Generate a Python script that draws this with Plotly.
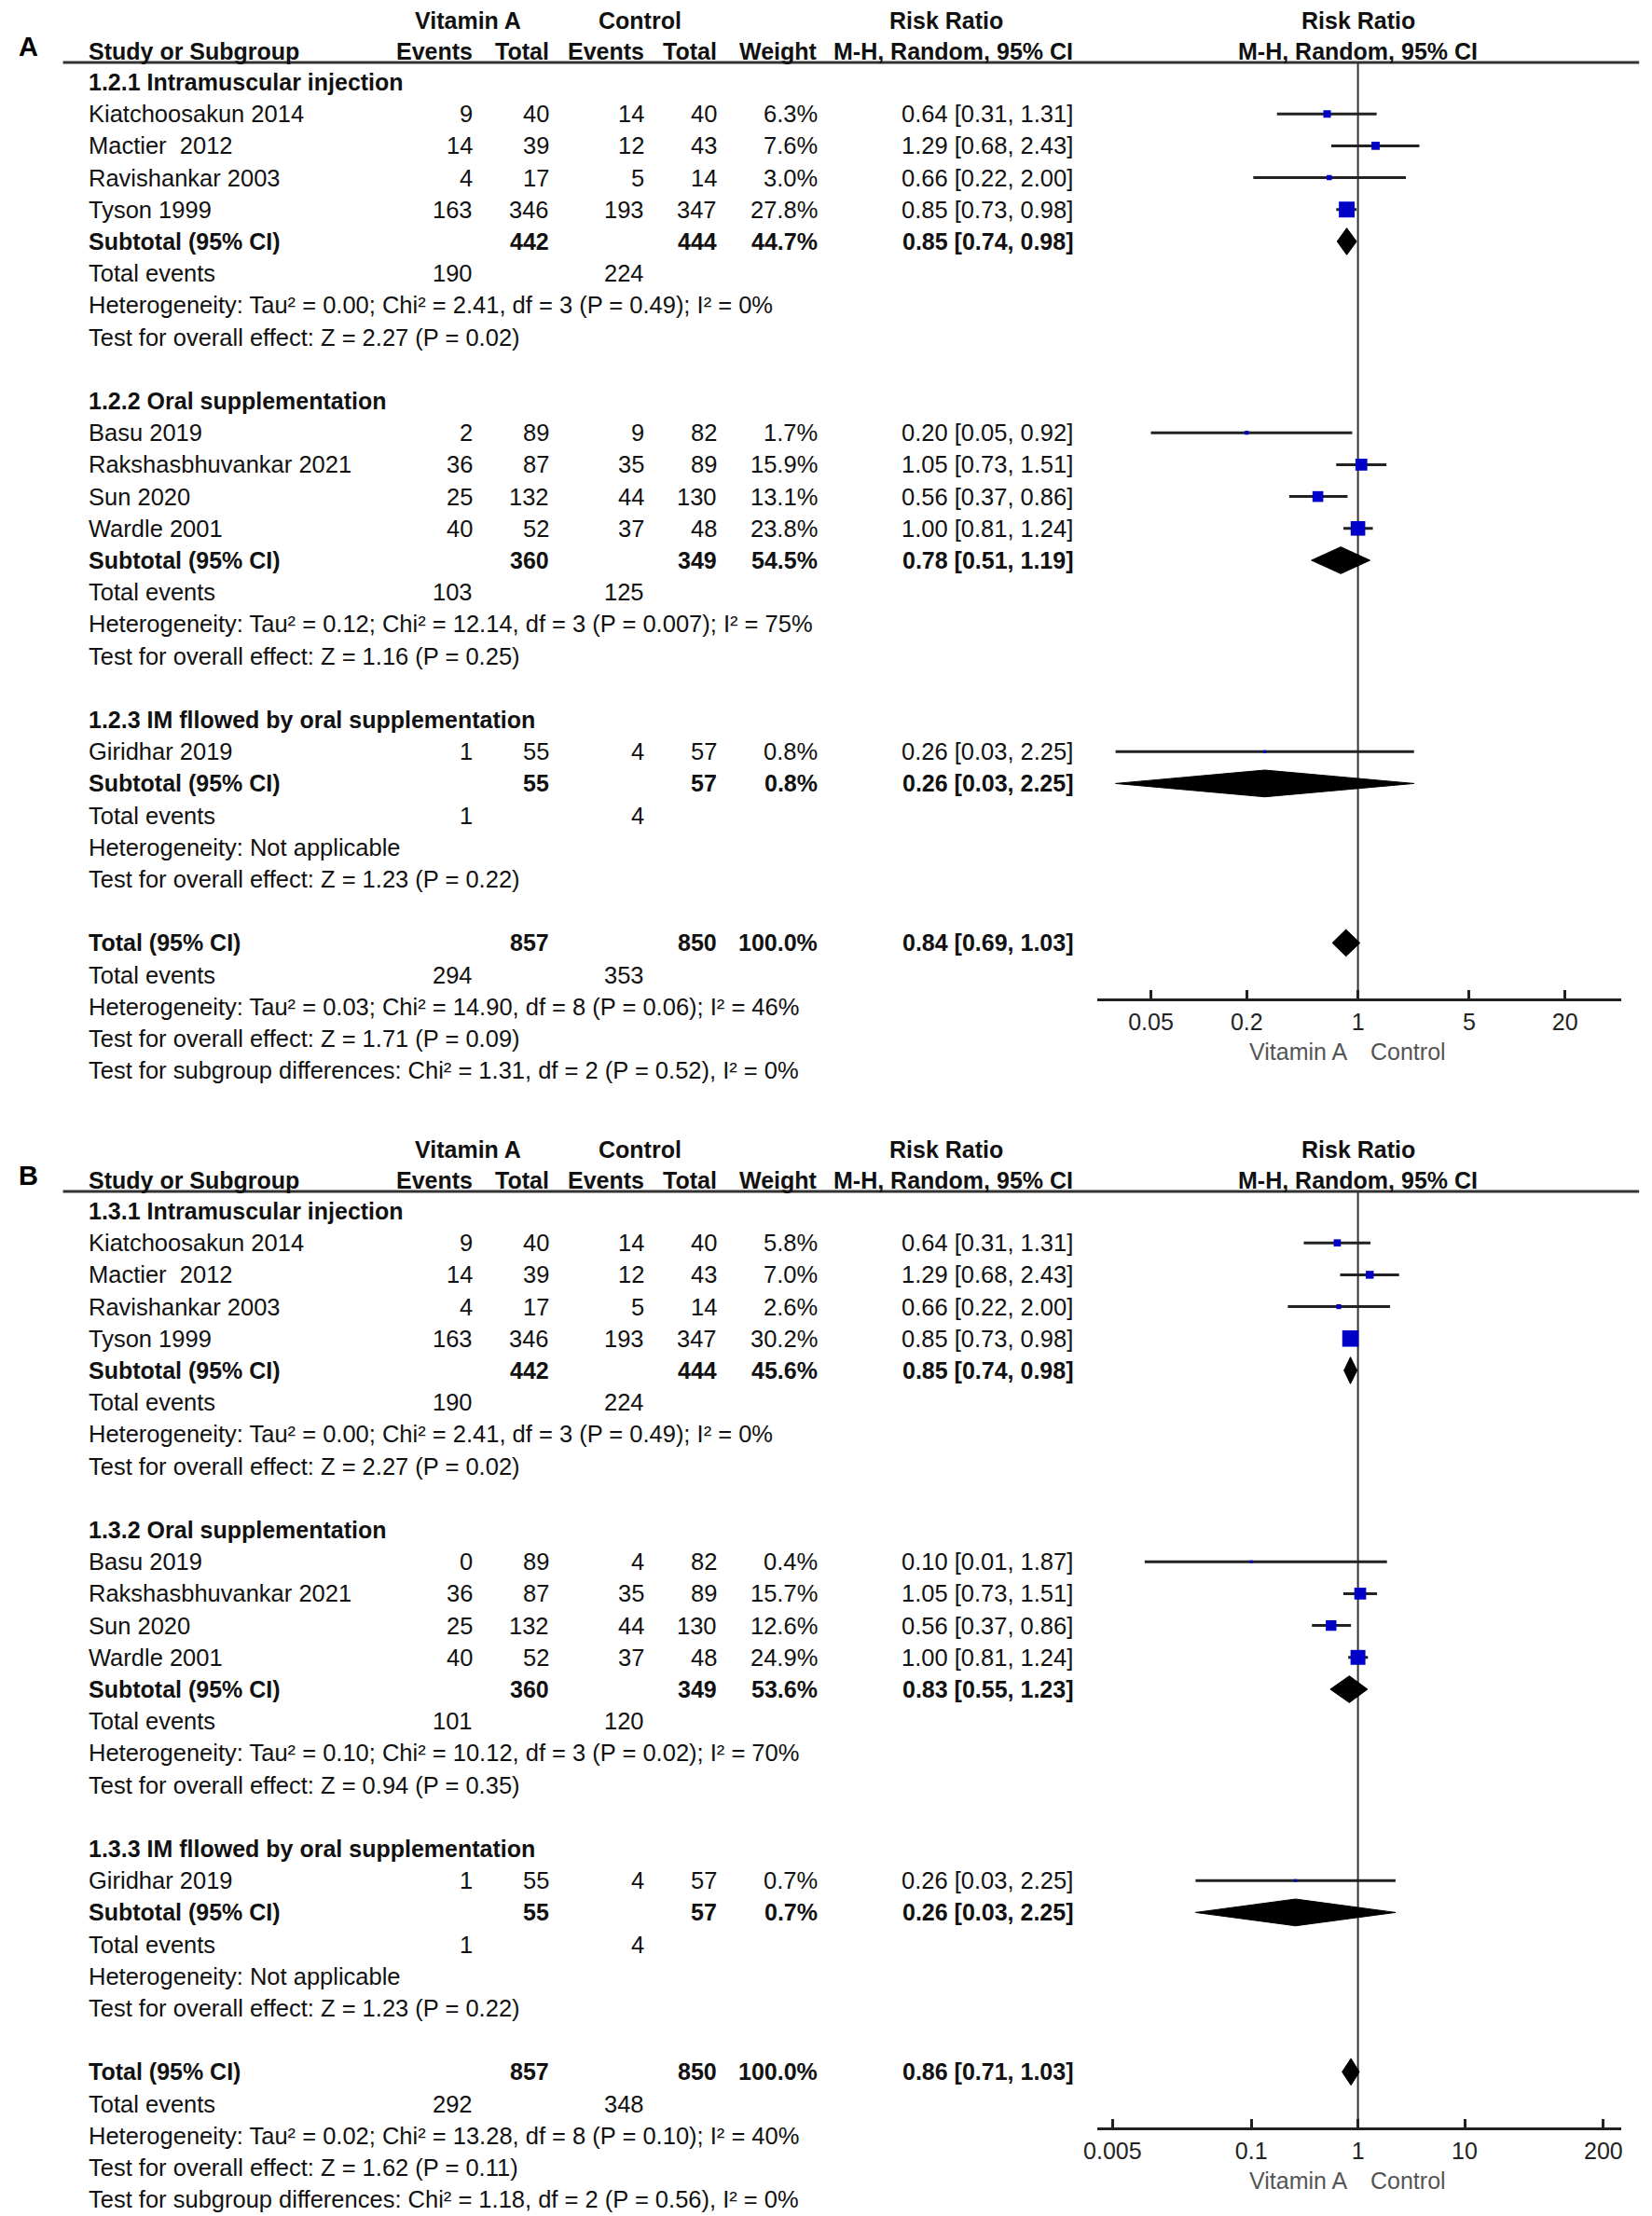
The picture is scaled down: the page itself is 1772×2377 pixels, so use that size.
import math
import plotly.graph_objects as go

W, H = 1772, 2377
FONT = "Liberation Sans"
TXT = "#111111"

# ---------------- Panel A data ----------------
A_group_titles = ["1.2.1 Intramuscular injection", "1.2.2 Oral supplementation",
                  "1.2.3 IM fllowed by oral supplementation"]
A_names = ["Kiatchoosakun 2014", "Mactier  2012", "Ravishankar 2003", "Tyson 1999",
           "Basu 2019", "Rakshasbhuvankar 2021", "Sun 2020", "Wardle 2001",
           "Giridhar 2019"]
A_group = [0, 0, 0, 0, 1, 1, 1, 1, 2]
A_ev_t = [9, 14, 4, 163, 2, 36, 25, 40, 1]
A_n_t = [40, 39, 17, 346, 89, 87, 132, 52, 55]
A_ev_c = [14, 12, 5, 193, 9, 35, 44, 37, 4]
A_n_c = [40, 43, 14, 347, 82, 89, 130, 48, 57]
A_weight = [6.3, 7.6, 3.0, 27.8, 1.7, 15.9, 13.1, 23.8, 0.8]
A_rr = [0.64, 1.29, 0.66, 0.85, 0.20, 1.05, 0.56, 1.00, 0.26]
A_lo = [0.31, 0.68, 0.22, 0.73, 0.05, 0.73, 0.37, 0.81, 0.03]
A_hi = [1.31, 2.43, 2.00, 0.98, 0.92, 1.51, 0.86, 1.24, 2.25]
A_sub_nt = [442, 360, 55]
A_sub_nc = [444, 349, 57]
A_sub_w = [44.7, 54.5, 0.8]
A_sub_rr = [0.85, 0.78, 0.26]
A_sub_lo = [0.74, 0.51, 0.03]
A_sub_hi = [0.98, 1.19, 2.25]
A_sub_evt = [190, 103, 1]
A_sub_evc = [224, 125, 4]
A_sub_het = ["Heterogeneity: Tau² = 0.00; Chi² = 2.41, df = 3 (P = 0.49); I² = 0%",
             "Heterogeneity: Tau² = 0.12; Chi² = 12.14, df = 3 (P = 0.007); I² = 75%",
             "Heterogeneity: Not applicable"]
A_sub_test = ["Test for overall effect: Z = 2.27 (P = 0.02)",
              "Test for overall effect: Z = 1.16 (P = 0.25)",
              "Test for overall effect: Z = 1.23 (P = 0.22)"]
A_tot = [857, 850, 100.0, 0.84, 0.69, 1.03]
A_tot_ev = [294, 353]
A_tot_lines = ["Heterogeneity: Tau² = 0.03; Chi² = 14.90, df = 8 (P = 0.06); I² = 46%",
               "Test for overall effect: Z = 1.71 (P = 0.09)",
               "Test for subgroup differences: Chi² = 1.31, df = 2 (P = 0.52), I² = 0%"]
A_ticks = [0.05, 0.2, 1, 5, 20]
A_ticktext = ["0.05", "0.2", "1", "5", "20"]

# ---------------- Panel B data ----------------
B_group_titles = ["1.3.1 Intramuscular injection", "1.3.2 Oral supplementation",
                  "1.3.3 IM fllowed by oral supplementation"]
B_names = ["Kiatchoosakun 2014", "Mactier  2012", "Ravishankar 2003", "Tyson 1999",
           "Basu 2019", "Rakshasbhuvankar 2021", "Sun 2020", "Wardle 2001",
           "Giridhar 2019"]
B_group = [0, 0, 0, 0, 1, 1, 1, 1, 2]
B_ev_t = [9, 14, 4, 163, 0, 36, 25, 40, 1]
B_n_t = [40, 39, 17, 346, 89, 87, 132, 52, 55]
B_ev_c = [14, 12, 5, 193, 4, 35, 44, 37, 4]
B_n_c = [40, 43, 14, 347, 82, 89, 130, 48, 57]
B_weight = [5.8, 7.0, 2.6, 30.2, 0.4, 15.7, 12.6, 24.9, 0.7]
B_rr = [0.64, 1.29, 0.66, 0.85, 0.10, 1.05, 0.56, 1.00, 0.26]
B_lo = [0.31, 0.68, 0.22, 0.73, 0.01, 0.73, 0.37, 0.81, 0.03]
B_hi = [1.31, 2.43, 2.00, 0.98, 1.87, 1.51, 0.86, 1.24, 2.25]
B_sub_nt = [442, 360, 55]
B_sub_nc = [444, 349, 57]
B_sub_w = [45.6, 53.6, 0.7]
B_sub_rr = [0.85, 0.83, 0.26]
B_sub_lo = [0.74, 0.55, 0.03]
B_sub_hi = [0.98, 1.23, 2.25]
B_sub_evt = [190, 101, 1]
B_sub_evc = [224, 120, 4]
B_sub_het = ["Heterogeneity: Tau² = 0.00; Chi² = 2.41, df = 3 (P = 0.49); I² = 0%",
             "Heterogeneity: Tau² = 0.10; Chi² = 10.12, df = 3 (P = 0.02); I² = 70%",
             "Heterogeneity: Not applicable"]
B_sub_test = ["Test for overall effect: Z = 2.27 (P = 0.02)",
              "Test for overall effect: Z = 0.94 (P = 0.35)",
              "Test for overall effect: Z = 1.23 (P = 0.22)"]
B_tot = [857, 850, 100.0, 0.86, 0.71, 1.03]
B_tot_ev = [292, 348]
B_tot_lines = ["Heterogeneity: Tau² = 0.02; Chi² = 13.28, df = 8 (P = 0.10); I² = 40%",
               "Test for overall effect: Z = 1.62 (P = 0.11)",
               "Test for subgroup differences: Chi² = 1.18, df = 2 (P = 0.56), I² = 0%"]
B_ticks = [0.005, 0.1, 1, 10, 200]
B_ticktext = ["0.005", "0.1", "1", "10", "200"]

# ---------------- layout constants (pixels, in the 1772x2377 picture) ----------------
OFF = 8.0          # page body margin compensation
ROW0 = 88.0        # y of first row in panel A
PITCH = 34.2       # row pitch
HDR_LINE = 67.0    # header rule
AXIS_Y = 1072.0    # forest x-axis line
B_OFF = 1211.0     # vertical offset of panel B
X_ONE = 1455.5
PLOT_L, PLOT_R = 1173.0, 1740.5
COL = dict(name=79, evt=499, nt=581, evc=684, nc=763, w=872, rr=1149)
FS = 25.5          # regular text size
FSB = 25           # bold text size


def PX(px):
    return (px - OFF) / W


def PY(py):
    return 1 - (py - OFF) / H


def row_of(py):
    return (py - ROW0) / PITCH


fig = go.Figure()
annotations = []
shapes = []


def txt(text, xpx, row, anchor, yref, bold=False, size=None, color=TXT):
    if size is None:
        size = FSB if bold else FS
    annotations.append(dict(
        text=f"<b>{text}</b>" if bold else text, x=PX(xpx), xref="paper",
        y=row, yref=yref, xanchor=anchor, yanchor="middle", showarrow=False,
        font=dict(family=FONT, size=size, color=color)))


def fmt_rr(r, lo, hi):
    return f"{r:.2f} [{lo:.2f}, {hi:.2f}]"


def panel(P, xid, xin, yid, yoff, label, decade):
    yref = yid
    hr1, hr2 = row_of(22), row_of(55)
    txt("Vitamin A", 492, hr1, "center", yref, bold=True)
    txt("Control", 678, hr1, "center", yref, bold=True)
    txt("Risk Ratio", 1010, hr1, "center", yref, bold=True)
    txt("Risk Ratio", X_ONE, hr1, "center", yref, bold=True)
    txt("Study or Subgroup", COL["name"], hr2, "left", yref, bold=True)
    txt("Events", COL["evt"], hr2, "right", yref, bold=True)
    txt("Total", COL["nt"], hr2, "right", yref, bold=True)
    txt("Events", COL["evc"], hr2, "right", yref, bold=True)
    txt("Total", COL["nc"], hr2, "right", yref, bold=True)
    txt("Weight", COL["w"], hr2, "right", yref, bold=True)
    txt("M-H, Random, 95% CI", COL["rr"], hr2, "right", yref, bold=True)
    txt("M-H, Random, 95% CI", X_ONE, hr2, "center", yref, bold=True)
    txt(label, 16, row_of(50), "center", yref, bold=True, size=29, color="#000")
    shapes.append(dict(type="line", xref="paper", yref="paper",
                       x0=PX(53), x1=PX(1760),
                       y0=PY(HDR_LINE + yoff), y1=PY(HDR_LINE + yoff),
                       line=dict(color="#333", width=3)))

    ci_x, ci_y, sq_x, sq_y, sq_s = [], [], [], [], []
    diamonds = []
    r = 0
    for g in range(3):
        txt(P["titles"][g], COL["name"], r, "left", yref, bold=True)
        r += 1
        for i in range(len(P["names"])):
            if P["group"][i] != g:
                continue
            txt(P["names"][i], COL["name"], r, "left", yref)
            txt(str(P["ev_t"][i]), COL["evt"], r, "right", yref)
            txt(str(P["n_t"][i]), COL["nt"], r, "right", yref)
            txt(str(P["ev_c"][i]), COL["evc"], r, "right", yref)
            txt(str(P["n_c"][i]), COL["nc"], r, "right", yref)
            txt(f"{P['weight'][i]:.1f}%", COL["w"], r, "right", yref)
            txt(fmt_rr(P["rr"][i], P["lo"][i], P["hi"][i]), COL["rr"], r, "right", yref)
            ci_x += [P["lo"][i], P["hi"][i], None]
            ci_y += [r, r, None]
            sq_x.append(P["rr"][i])
            sq_y.append(r)
            sq_s.append(max(3.0, 3.2 * math.sqrt(P["weight"][i])))
            r += 1
        txt("Subtotal (95% CI)", COL["name"], r, "left", yref, bold=True)
        txt(str(P["sub_nt"][g]), COL["nt"], r, "right", yref, bold=True)
        txt(str(P["sub_nc"][g]), COL["nc"], r, "right", yref, bold=True)
        txt(f"{P['sub_w'][g]:.1f}%", COL["w"], r, "right", yref, bold=True)
        txt(fmt_rr(P["sub_rr"][g], P["sub_lo"][g], P["sub_hi"][g]), COL["rr"], r,
            "right", yref, bold=True)
        diamonds.append((P["sub_rr"][g], P["sub_lo"][g], P["sub_hi"][g], r))
        r += 1
        txt("Total events", COL["name"], r, "left", yref)
        txt(str(P["sub_evt"][g]), COL["evt"], r, "right", yref)
        txt(str(P["sub_evc"][g]), COL["evc"], r, "right", yref)
        r += 1
        txt(P["sub_het"][g], COL["name"], r, "left", yref)
        r += 1
        txt(P["sub_test"][g], COL["name"], r, "left", yref)
        r += 2
    tot = P["tot"]
    txt("Total (95% CI)", COL["name"], r, "left", yref, bold=True)
    txt(str(tot[0]), COL["nt"], r, "right", yref, bold=True)
    txt(str(tot[1]), COL["nc"], r, "right", yref, bold=True)
    txt(f"{tot[2]:.1f}%", COL["w"], r, "right", yref, bold=True)
    txt(fmt_rr(tot[3], tot[4], tot[5]), COL["rr"], r, "right", yref, bold=True)
    diamonds.append((tot[3], tot[4], tot[5], r))
    r += 1
    txt("Total events", COL["name"], r, "left", yref)
    txt(str(P["tot_ev"][0]), COL["evt"], r, "right", yref)
    txt(str(P["tot_ev"][1]), COL["evc"], r, "right", yref)
    r += 1
    for line in P["tot_lines"]:
        txt(line, COL["name"], r, "left", yref)
        r += 1

    # line of no effect
    fig.add_trace(go.Scatter(x=[1, 1], y=[row_of(HDR_LINE), row_of(AXIS_Y)],
                             mode="lines", line=dict(color="#333", width=2),
                             xaxis=xid, yaxis=yid, hoverinfo="skip", showlegend=False))
    fig.add_trace(go.Scatter(x=ci_x, y=ci_y, mode="lines",
                             line=dict(color="#222", width=3),
                             xaxis=xid, yaxis=yid, hoverinfo="skip", showlegend=False))
    fig.add_trace(go.Scatter(x=sq_x, y=sq_y, mode="markers", opacity=1,
                             marker=dict(symbol="square", size=sq_s, color="#0000c8",
                                         opacity=1, line=dict(width=0)),
                             xaxis=xid, yaxis=yid, showlegend=False))
    for est, lo, hi, rr_ in diamonds:
        hh = 0.42
        fig.add_trace(go.Scatter(x=[lo, est, hi, est, lo],
                                 y=[rr_, rr_ - hh, rr_, rr_ + hh, rr_],
                                 mode="lines", fill="toself", fillcolor="#000",
                                 line=dict(color="#000", width=1),
                                 xaxis=xid, yaxis=yid, hoverinfo="skip",
                                 showlegend=False))

    # axes
    lo_log = (PLOT_L - X_ONE) / decade
    hi_log = (PLOT_R - X_ONE) / decade
    xdom = [PX(PLOT_L), PX(PLOT_R)]
    top_px = 10.0
    bot_px = min(1180.0, H + OFF - yoff)
    ydom = [PY(bot_px + yoff), PY(top_px + yoff)]
    xpos = PY(AXIS_Y + yoff)
    xname = "xaxis" if xid == "x" else "xaxis" + xid[1:]
    xin_name = "xaxis" + xin[1:]
    yname = "yaxis" if yid == "y" else "yaxis" + yid[1:]
    common = dict(type="log", range=[lo_log, hi_log], showgrid=False, zeroline=False,
                  tickvals=P["ticks"], ticktext=P["ticktext"], ticklen=9,
                  tickwidth=2.5, tickcolor="#222", anchor="free", position=xpos)
    fig.update_layout(**{
        xname: dict(domain=xdom, showline=True, linecolor="#222",
                    linewidth=2.5, ticks="inside", ticklabelstandoff=1,
                    tickfont=dict(family=FONT, size=25, color="#222"), **common),
        xin_name: dict(overlaying=xid, side="bottom", ticks="outside",
                       showticklabels=False, showline=False, **common),
        yname: dict(domain=ydom, anchor=xid, range=[row_of(bot_px), row_of(top_px)],
                    visible=False, showgrid=False, zeroline=False),
    })
    ylab = row_of(1128)
    for t, anc, sh in (("Vitamin A", "right", -10), ("Control", "left", 11)):
        annotations.append(dict(text=t, x=0, xref=xid, y=ylab, yref=yref,
                                xanchor=anc, xshift=sh, yanchor="middle",
                                showarrow=False,
                                font=dict(family=FONT, size=25, color="#555")))


PA = dict(titles=A_group_titles, names=A_names, group=A_group, ev_t=A_ev_t, n_t=A_n_t,
          ev_c=A_ev_c, n_c=A_n_c, weight=A_weight, rr=A_rr, lo=A_lo, hi=A_hi,
          sub_nt=A_sub_nt, sub_nc=A_sub_nc, sub_w=A_sub_w, sub_rr=A_sub_rr,
          sub_lo=A_sub_lo, sub_hi=A_sub_hi, sub_evt=A_sub_evt, sub_evc=A_sub_evc,
          sub_het=A_sub_het, sub_test=A_sub_test, tot=A_tot, tot_ev=A_tot_ev,
          tot_lines=A_tot_lines, ticks=A_ticks, ticktext=A_ticktext)
PB = dict(titles=B_group_titles, names=B_names, group=B_group, ev_t=B_ev_t, n_t=B_n_t,
          ev_c=B_ev_c, n_c=B_n_c, weight=B_weight, rr=B_rr, lo=B_lo, hi=B_hi,
          sub_nt=B_sub_nt, sub_nc=B_sub_nc, sub_w=B_sub_w, sub_rr=B_sub_rr,
          sub_lo=B_sub_lo, sub_hi=B_sub_hi, sub_evt=B_sub_evt, sub_evc=B_sub_evc,
          sub_het=B_sub_het, sub_test=B_sub_test, tot=B_tot, tot_ev=B_tot_ev,
          tot_lines=B_tot_lines, ticks=B_ticks, ticktext=B_ticktext)

panel(PA, "x", "x3", "y", 0.0, "A", 172.4)
panel(PB, "x2", "x4", "y2", B_OFF, "B", 115.5)

fig.update_layout(width=W, height=H, autosize=False,
                  margin=dict(l=0, r=0, t=0, b=0),
                  paper_bgcolor="white", plot_bgcolor="white",
                  annotations=annotations, shapes=shapes, showlegend=False)

fig.write_html("out.html")
